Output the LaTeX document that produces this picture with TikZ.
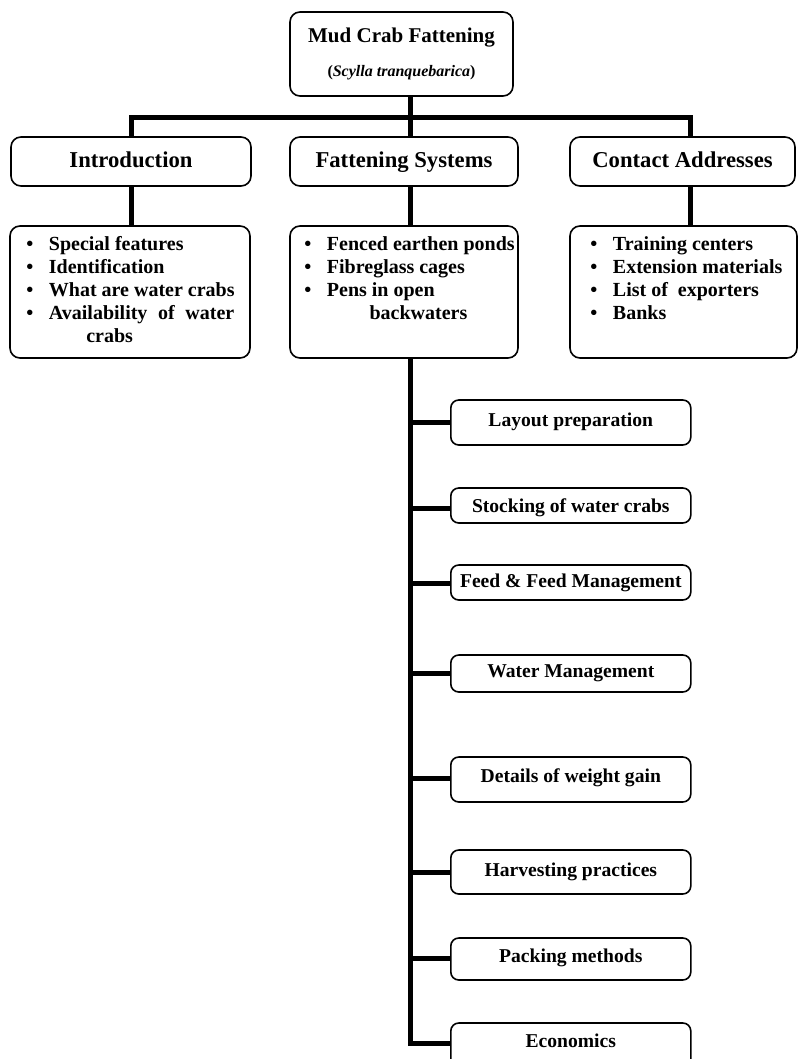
\documentclass[tikz,border=0pt]{standalone}
\usepackage{fontspec}
\setmainfont{Liberation Serif}
\usetikzlibrary{positioning}

\tikzset{
  box/.style={draw, line width=1.2pt, rounded corners=7.5pt, inner sep=0pt, align=center},
  headbox/.style={box, font=\bfseries\fontsize{17}{20}\selectfont, minimum height=36.75pt, text height=12pt, text depth=3pt},
  listbox/.style={box, minimum height=99pt},
  items/.style={inner sep=0pt, anchor=north west, align=left, font=\bfseries\fontsize{15}{17.25}\selectfont},
  stagebox/.style={box, rounded corners=6pt, anchor=base west, minimum width=180pt, font=\bfseries\fontsize{14.7}{17}\selectfont},
  link/.style={line width=3.75pt},
}
\newcommand{\itm}[1]{\makebox[17pt][l]{\textbullet}#1}

\begin{document}
\begin{tikzpicture}[x=0.75pt, y=-0.75pt]
  \useasboundingbox (0,0) rectangle (800,1059);
  % top box
  \node[box, font=\bfseries, minimum width=167.25pt, minimum height=63pt] (title) at (401.5,54)
    {{\fontsize{15.75}{18}\selectfont Mud Crab Fattening}\\[14pt]{\fontsize{12}{14}\selectfont (\textit{Scylla tranquebarica})}};
  % headings
  \node[headbox, minimum width=180pt] (intro) at (131,161.5) {Introduction};
  \node[headbox, minimum width=171pt] (fsys) at (404,161.5) {Fattening Systems};
  \node[headbox, minimum width=168.75pt] (contact) at (682.5,161.5) {Contact Addresses};
  % list boxes
  \node[listbox, minimum width=180pt] (introlist) at (130,292) {};
  \node[listbox, minimum width=171pt] (fsyslist) at (404,292) {};
  \node[listbox, minimum width=170.25pt] (contactlist) at (683.5,292) {};
  \node[items] (introitems) at (26,236) {\itm{Special features}\\ \itm{Identification}\\
    \itm{What are water crabs}\\ \itm{\makebox[139pt][s]{Availability of water}}\\ \hspace*{45pt}crabs};
  \node[items] (fsysitems) at (304,236) {\itm{Fenced earthen ponds}\\ \itm{Fibreglass cages}\\
    \itm{Pens in open}\\ \hspace*{49pt}backwaters};
  \node[items] (contactitems) at (590,236) {\itm{Training centers}\\ \itm{Extension materials}\\
    \itm{List of\ \ exporters}\\ \itm{Banks}};
  % connectors
  \coordinate (colA) at (131,118);
  \coordinate (colB) at (410,118);
  \coordinate (colC) at (690,118);
  \draw[link] (intro.north -| colA) -- (colA) -- (colC) -- (contact.north -| colC);
  \draw[link] (title.south -| colB) -- (fsys.north -| colB);
  \foreach \u/\l/\c in {intro/introlist/colA, fsys/fsyslist/colB, contact/contactlist/colC}
    \draw[link] (\u.south -| \c) -- (\l.north -| \c);
  % stages
  \foreach \name/\label/\yb/\th/\td in {
      layout/Layout preparation/426/19.5pt/14.25pt,
      stocking/Stocking of water crabs/512/18pt/8.25pt,
      feed/Feed \& Feed Management/587/16.5pt/9.75pt,
      water/Water Management/677/16.5pt/11.25pt,
      weight/Details of weight gain/782/18.75pt/15pt,
      harvest/Harvesting practices/876/19.5pt/13.5pt,
      packing/Packing methods/962/18pt/13.5pt,
      econ/Economics/1047/18pt/24pt}
    \node[stagebox, text height=\th, text depth=\td] (\name) at (450,\yb) {\label};
  \draw[link] (fsyslist.south -| colB) |- (econ.mid west);
  \foreach \name in {layout, stocking, feed, water, weight, harvest, packing}
    \draw[link] (colB |- \name.mid west) -- (\name.mid west);
\end{tikzpicture}
\end{document}
